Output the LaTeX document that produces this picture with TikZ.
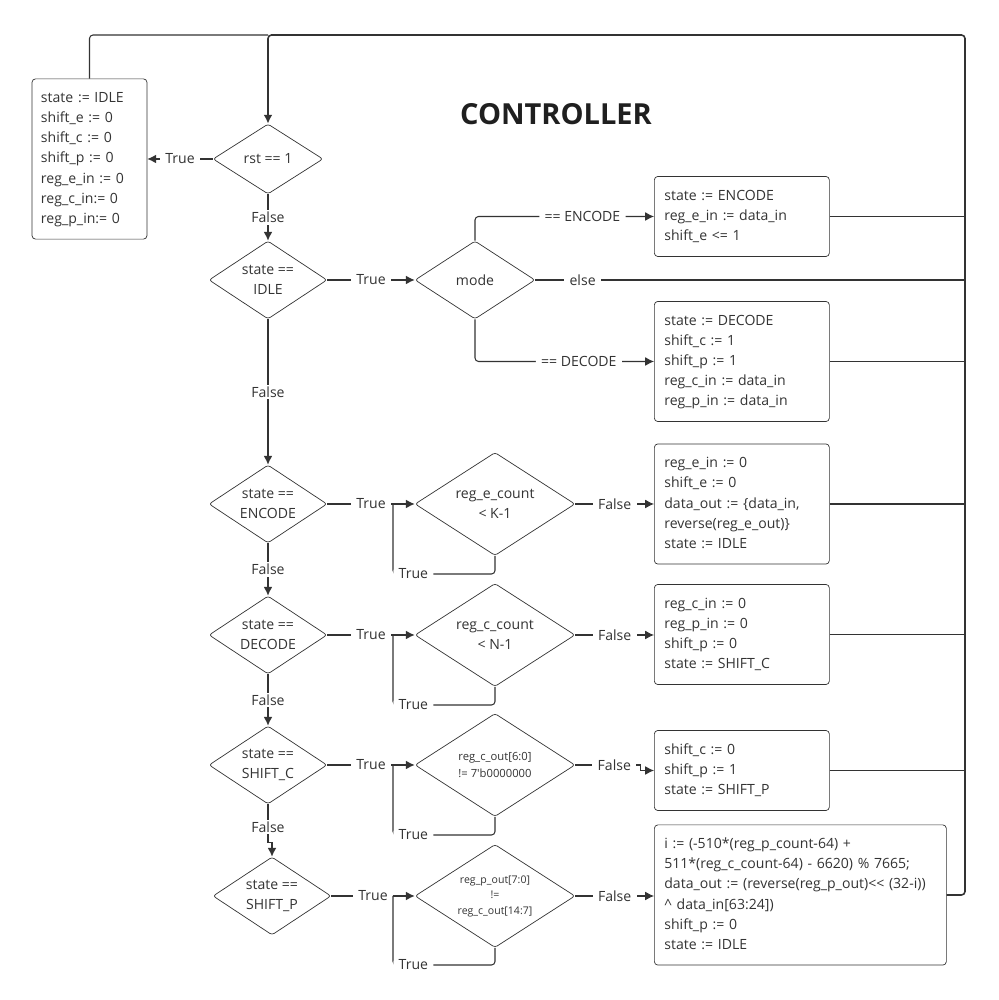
\documentclass[tikz,border=0pt]{standalone}
\usepackage{fontspec}
\setmainfont{Open Sans}
\usetikzlibrary{arrows.meta,calc,positioning,shapes.geometric}
\definecolor{ink}{HTML}{333333}
\newcommand{\boxfont}{\fontsize{8}{11.4}\selectfont}
\newcommand{\condfont}{\fontsize{6.4}{9.6}\selectfont}
\newcommand{\tinyfont}{\fontsize{6}{8.8}\selectfont}
\tikzset{%
	action/.style   = {draw=ink, rectangle, rounded corners=2pt, align=left, text width=3.1cm, inner xsep=0.2cm, inner ysep=0.2cm, font=\boxfont, execute at begin node=\strut, execute at end node=\strut},
	decision/.style = {draw=ink, diamond, aspect=1.5, inner sep=0pt, rounded corners=1.5pt, align=center, font=\boxfont},
	cond/.style     = {decision, minimum width=2.36cm, minimum height=1.56cm},
	count/.style    = {decision, minimum width=3.2cm, minimum height=2.06cm},
	lbl/.style      = {fill=white, inner xsep=3pt, inner ysep=1pt, font=\boxfont, text=ink},
	line/.style     = {draw=ink, line width=0.6pt},
	arrow/.style    = {line, -{Latex[length=5pt,width=5pt]}},
	bus/.style      = {draw=ink, line width=0.9pt, rounded corners=2pt},
}
\begin{document}
\begin{tikzpicture}[text=ink]
	\useasboundingbox (0,0) rectangle (19.98,20);
	\node[font=\fontsize{16.5}{20}\selectfont\bfseries, text=black!88] (title) at (11.12,17.72) {CONTROLLER};
	
	% main chain of state tests
	\node[decision, minimum width=2.2cm, minimum height=1.4cm] (rst) at (5.36,16.82) {rst == 1};
	\node[cond] (idle) at (5.36,14.40) {state ==\\IDLE};
	\node[cond] (enc) at (5.36,9.92) {state ==\\ENCODE};
	\node[cond] (dec) at (5.36,7.30) {state ==\\DECODE};
	\node[cond] (shc) at (5.36,4.70) {state ==\\SHIFT\_C};
	\node[cond] (shp) at (5.44,2.08) {state ==\\SHIFT\_P};
	
	% inner tests
	\node[cond, minimum width=2.4cm] (mode) at (9.50,14.40) {mode};
	\node[count] (ecnt) at (9.90,9.92) {reg\_e\_count\\< K-1};
	\node[count] (ccnt) at (9.90,7.30) {reg\_c\_count\\< N-1};
	\node[count, font=\condfont] (cout) at (9.90,4.70) {reg\_c\_out[6:0]\\!= 7\textquotesingle b0000000};
	\node[count, font=\tinyfont] (pout) at (9.90,2.08) {reg\_p\_out[7:0]\\!=\\reg\_c\_out[14:7]};
	
	% assignments
	\node[action, text width=1.94cm, inner xsep=0.18cm] (rstbox) at (1.79,16.82) {state := IDLE\\shift\_e := 0\\shift\_c := 0\\shift\_p := 0\\reg\_e\_in := 0\\reg\_c\_in:= 0\\reg\_p\_in:= 0};
	\node[action, anchor=west] (encbox) at (13.08,15.67) {state := ENCODE\\reg\_e\_in := data\_in\\shift\_e <= 1};
	\node[action, anchor=west] (decbox) at (13.08,12.77) {state := DECODE\\shift\_c := 1\\shift\_p := 1\\reg\_c\_in := data\_in\\reg\_p\_in := data\_in};
	\node[action, anchor=west] (ebox) at (13.08,9.92) {reg\_e\_in := 0\\shift\_e := 0\\data\_out := \{data\_in,\\reverse(reg\_e\_out)\}\\state := IDLE};
	\node[action, anchor=west] (cbox) at (13.08,7.31) {reg\_c\_in := 0\\reg\_p\_in := 0\\shift\_p := 0\\state := SHIFT\_C};
	\node[action, anchor=west] (scbox) at (13.08,4.59) {shift\_c := 0\\shift\_p := 1\\state := SHIFT\_P};
	\node[action, anchor=west, text width=5.44cm] (spbox) at (13.08,2.10) {i := (-510*(reg\_p\_count-64) +\\511*(reg\_c\_count-64) - 6620) \% 7665;\\data\_out := (reverse(reg\_p\_out)<\kern0pt< (32-i))\\\textasciicircum{} data\_in[63:24])\\shift\_p := 0\\state := IDLE};
	
	\coordinate (bus) at (19.30,19.30);
	\coordinate (join) at (5.36,19.30);
	\coordinate (eloop) at (7.86,8.52);
	\coordinate (cloop) at (7.86,5.90);
	\coordinate (oloop) at (7.86,3.30);
	\coordinate (ploop) at (7.86,0.70);
	
	% reset
	\draw[arrow] (rst.west) -- node[lbl]{True} (rstbox.east);
	\draw[line, rounded corners=2pt] (rstbox.north) |- (join);
	\draw[arrow] (rst.south) -- node[lbl]{False} (idle.north);
	
	% idle
	\draw[arrow] (idle.east) -- node[lbl]{True} (mode.west);
	\draw[arrow, rounded corners=2pt] (mode.north) |- node[lbl, pos=0.8]{== ENCODE} (encbox.west);
	\draw[arrow, rounded corners=2pt] (mode.south) |- node[lbl, pos=0.79]{== DECODE} (decbox.west);
	\draw[line] (mode.east) -- node[lbl, pos=0.11]{else} (mode.east -| bus);
	\draw[arrow] (idle.south) -- node[lbl]{False} (enc.north);
	
	% encode
	\draw[arrow] (enc.east) -- node[lbl]{True} (ecnt.west);
	\draw[line, rounded corners=2pt] (ecnt.south) |- node[lbl, pos=0.9]{True} (eloop) -- (eloop |- enc.east);
	\draw[arrow] (ecnt.east) -- node[lbl]{False} (ecnt.east -| ebox.west);
	\draw[arrow] (enc.south) -- node[lbl]{False} (dec.north);
	
	% decode
	\draw[arrow] (dec.east) -- node[lbl]{True} (ccnt.west);
	\draw[line, rounded corners=2pt] (ccnt.south) |- node[lbl, pos=0.9]{True} (cloop) -- (cloop |- dec.east);
	\draw[arrow] (ccnt.east) -- node[lbl]{False} (ccnt.east -| cbox.west);
	\draw[arrow] (dec.south) -- node[lbl]{False} (shc.north);
	
	% shift_c
	\draw[arrow] (shc.east) -- node[lbl]{True} (cout.west);
	\draw[line, rounded corners=2pt] (cout.south) |- node[lbl, pos=0.9]{True} (oloop) -- (oloop |- shc.east);
	\draw[arrow] (cout.east) -- node[lbl, pos=0.6]{False} ++(1.3,0) |- (scbox.west);
	\draw[arrow] (shc.south) -- node[lbl, pos=0.6]{False} ++(0,-0.76) -| (shp.north);
	
	% shift_p
	\draw[arrow] (shp.east) -- node[lbl]{True} (pout.west);
	\draw[line, rounded corners=2pt] (pout.south) |- node[lbl, pos=0.9]{True} (ploop) -- (ploop |- shp.east);
	\draw[arrow] (pout.east) -- node[lbl]{False} (pout.east -| spbox.west);
	
	% back to the top
	\draw[line] (encbox.east) -- (encbox.east -| bus);
	\draw[line] (decbox.east) -- (decbox.east -| bus);
	\draw[line] (ebox.east) -- (ebox.east -| bus);
	\draw[line] (cbox.east) -- (cbox.east -| bus);
	\draw[line] (scbox.east) -- (scbox.east -| bus);
	\draw[bus, -{Latex[length=5pt,width=5pt]}] (spbox.east) -| (bus) -- (join) -- (rst.north);
	
\end{tikzpicture}
\end{document}
